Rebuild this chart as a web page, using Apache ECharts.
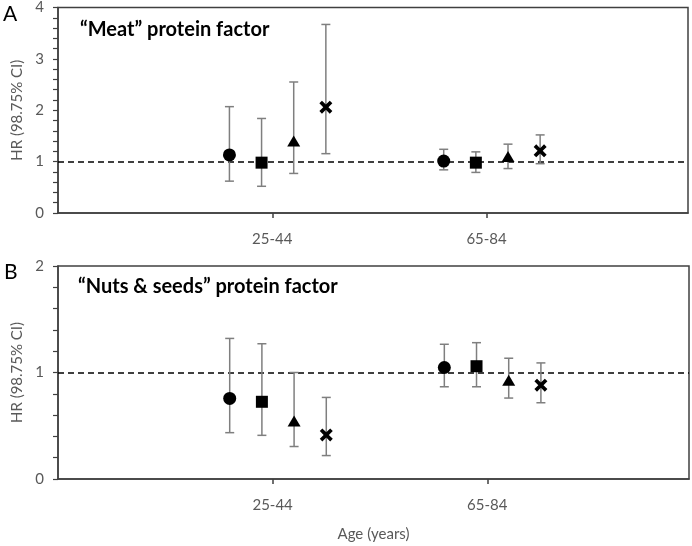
<!DOCTYPE html>
<html>
<head>
<meta charset="utf-8">
<script src="https://cdn.jsdelivr.net/npm/echarts@6/dist/echarts.min.js"></script>
<style>
  html, body { margin: 0; padding: 0; background: #fff; }
  #chart { width: 692px; height: 546px; }
</style>
</head>
<body>
<div id="chart"></div>
<script>
const ageGroups = ['25-44', '65-84']
const markerNames = ['circle', 'square', 'triangle', 'cross']

// HR and 98.75% CI, one row per marker, one column per age group
const meatHR = [[1.13, 1.01], [0.98, 0.98], [1.40, 1.10], [2.06, 1.21]]
const meatLow = [[0.62, 0.84], [0.52, 0.79], [0.77, 0.865], [1.155, 0.96]]
const meatHigh = [[2.07, 1.24], [1.84, 1.19], [2.55, 1.34], [3.67, 1.52]]

const nutsHR = [[0.757, 1.047], [0.725, 1.059], [0.545, 0.928], [0.414, 0.881]]
const nutsLow = [[0.435, 0.866], [0.41, 0.866], [0.305, 0.76], [0.22, 0.716]]
const nutsHigh = [[1.32, 1.265], [1.27, 1.28], [1.0, 1.134], [0.766, 1.09]]

const yMaxTop = 4
const yMaxBottom = 2

// x layout: groups at 1 and 2, markers dodged around them
const groupPos = [1, 2]
const dodge = [-0.2, -0.05, 0.1, 0.25]

const crossPath = 'path://M0,2 L2,0 L5,3 L8,0 L10,2 L7,5 L10,8 L8,10 L5,7 L2,10 L0,8 L3,5 Z'
const symbols = ['circle', 'rect', 'triangle', crossPath]
const symbolSizes = [13, 12, [13, 11], 13]

const fontFamily = 'Lato'
const axisGray = '#595959'
const frameColor = '#404040'

const chart = echarts.init(document.getElementById('chart'))

const xAxisBase = (gridIndex, showName) => ({
  type: 'value',
  gridIndex,
  min: 0,
  max: 2.94,
  interval: 1,
  splitLine: { show: false },
  axisLine: { show: true, onZero: false, lineStyle: { color: frameColor, width: 1.5 } },
  axisTick: { show: true, customValues: groupPos, length: 5, lineStyle: { color: frameColor, width: 1.5 } },
  axisLabel: {
    customValues: groupPos,
    margin: 19,
    color: axisGray,
    fontFamily,
    fontSize: 15,
    formatter: v => ageGroups[groupPos.indexOf(v)] || ''
  },
  name: showName ? 'Age (years)' : '',
  nameLocation: 'middle',
  nameGap: 48,
  nameTextStyle: { color: axisGray, fontFamily, fontSize: 15 }
})

// ticks every 0.2 (outside), labels only on whole numbers
const yAxisBase = (gridIndex, max) => ({
  type: 'value',
  gridIndex,
  min: 0,
  max,
  interval: 0.2,
  splitLine: { show: false },
  axisLine: { show: true, onZero: false, lineStyle: { color: frameColor, width: 1.5 } },
  axisTick: { show: true, inside: false, length: 5, lineStyle: { color: frameColor, width: 1.2 } },
  axisLabel: {
    margin: 14,
    color: axisGray,
    fontFamily,
    fontSize: 15,
    formatter: v => (Math.abs(v - Math.round(v)) < 1e-6 ? String(Math.round(v)) : '')
  },
  name: 'HR (98.75% CI)',
  nameLocation: 'middle',
  nameGap: 32,
  nameTextStyle: { color: axisGray, fontFamily, fontSize: 15 }
})

const buildSeries = (panel, hr, low, high) => {
  const list = []
  markerNames.forEach((m, i) => {
    const xs = groupPos.map(g => g + dodge[i])
    list.push({
      name: m + '-ci-' + panel,
      type: 'custom',
      xAxisIndex: panel,
      yAxisIndex: panel,
      silent: true,
      z: 2,
      data: xs.map((x, j) => [x, low[i][j], high[i][j]]),
      renderItem: (params, api) => {
        const lo = api.coord([api.value(0), api.value(1)])
        const hi = api.coord([api.value(0), api.value(2)])
        const cap = 4.5
        const style = { stroke: '#7f7f7f', lineWidth: 1.5 }
        return {
          type: 'group',
          children: [
            { type: 'line', shape: { x1: lo[0], y1: lo[1], x2: hi[0], y2: hi[1] }, style },
            { type: 'line', shape: { x1: lo[0] - cap, y1: lo[1], x2: lo[0] + cap, y2: lo[1] }, style },
            { type: 'line', shape: { x1: hi[0] - cap, y1: hi[1], x2: hi[0] + cap, y2: hi[1] }, style }
          ]
        }
      }
    })
    list.push({
      name: m + '-' + panel,
      type: 'scatter',
      xAxisIndex: panel,
      yAxisIndex: panel,
      symbol: symbols[i],
      symbolSize: symbolSizes[i],
      itemStyle: { color: '#000', opacity: 1 },
      z: 3,
      data: xs.map((x, j) => [x, hr[i][j]]),
      markLine: i === 0 ? {
        silent: true,
        symbol: 'none',
        label: { show: false },
        lineStyle: { color: '#000', width: 1.5, type: [6, 4] },
        data: [{ yAxis: 1 }],
        z: 1
      } : undefined
    })
  })
  return list
}

const option = {
  animation: false,
  backgroundColor: '#fff',
  grid: [
    { left: 58, top: 6, width: 630, height: 207, show: true, borderColor: frameColor, borderWidth: 1.5 },
    { left: 58, top: 266, width: 631, height: 213, show: true, borderColor: frameColor, borderWidth: 1.5 }
  ],
  xAxis: [xAxisBase(0, false), xAxisBase(1, true)],
  yAxis: [yAxisBase(0, yMaxTop), yAxisBase(1, yMaxBottom)],
  graphic: [
    { type: 'text', left: 3, top: 4, style: { text: 'A', fontFamily, fontSize: 21, fill: '#000' } },
    { type: 'text', left: 4, top: 262, style: { text: 'B', fontFamily, fontSize: 21, fill: '#000' } },
    { type: 'text', left: 80, top: 20, style: { text: '\u201CMeat\u201D protein factor', fontFamily, fontSize: 20, fontWeight: 'bold', fill: '#000' } },
    { type: 'text', left: 78, top: 277, style: { text: '\u201CNuts & seeds\u201D protein factor', fontFamily, fontSize: 20, fontWeight: 'bold', fill: '#000' } }
  ],
  series: [
    ...buildSeries(0, meatHR, meatLow, meatHigh),
    ...buildSeries(1, nutsHR, nutsLow, nutsHigh)
  ]
}

chart.setOption(option)
</script>
</body>
</html>
